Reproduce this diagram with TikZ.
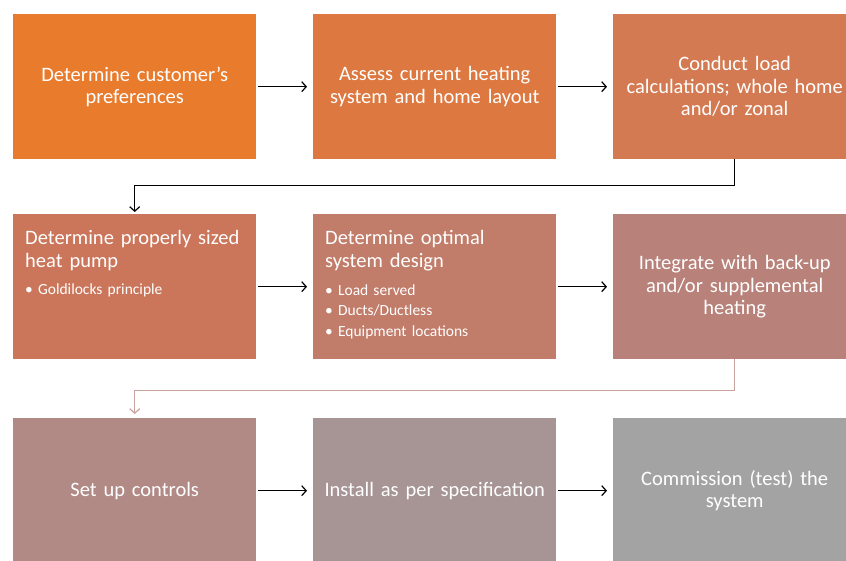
\documentclass[tikz,border=0pt]{standalone}
\usepackage{fontspec}
\setmainfont{Carlito}
\usetikzlibrary{positioning, arrows.meta}
\definecolor{stepA}{HTML}{E97B2D}
\definecolor{stepB}{HTML}{DD7940}
\definecolor{stepC}{HTML}{D47A52}
\definecolor{stepD}{HTML}{CB755A}
\definecolor{stepE}{HTML}{C17C6A}
\definecolor{stepF}{HTML}{B8827A}
\definecolor{stepG}{HTML}{B18A86}
\definecolor{stepH}{HTML}{A79494}
\definecolor{stepI}{HTML}{A3A3A3}
\definecolor{linkpink}{HTML}{C9A19D}
\tikzset{
	stepbox/.style={fill=#1, minimum width=243, minimum height=145, inner sep=0pt,
			anchor=north west, text width=232, align=center,
			font=\fontsize{20.5}{22.5}\selectfont, text=white}
}
\tikzset{
	steptitle/.style={inner sep=0pt, anchor=north west, text width=232, align=left,
			font=\fontsize{20.5}{23}\selectfont, text=white}
}
\tikzset{
	steplist/.style={inner sep=0pt, text width=225, align=left,
			font=\fontsize{15.5}{20.5}\selectfont, text=white}
}
\tikzset{
	flow/.style={line width=1.2pt, -{Straight Barb[length=4.5pt, width=10pt]},
			shorten <=2pt, shorten >=6pt}
}

\begin{document}
\begin{tikzpicture}[x=1pt, y=1pt]
	\useasboundingbox (0,0) rectangle (846,560);

	\begin{scope}
		\coordinate (cA) at (13,546);
		\coordinate (cB) at (313,546);
		\coordinate (cC) at (613,546);
		\coordinate (cD) at (13,346);
		\coordinate (cE) at (313,346);
		\coordinate (cF) at (613,346);
		\coordinate (cG) at (13,142);
		\coordinate (cH) at (313,142);
		\coordinate (cI) at (613,142);

		\node[stepbox=stepA] (sA) at (cA) {Determine customer’s\\preferences};
		\node[stepbox=stepB] (sB) at (cB) {Assess current heating\\system and home layout};
		\node[stepbox=stepC] (sC) at (cC) {Conduct load\\calculations; whole home\\and/or zonal};
		\node[stepbox=stepD] (sD) at (cD) {};
		\node[stepbox=stepE] (sE) at (cE) {};
		\node[stepbox=stepF] (sF) at (cF) {Integrate with back-up\\and/or supplemental\\heating};
		\node[stepbox=stepG] (sG) at (cG) {Set up controls};
		\node[stepbox=stepH] (sH) at (cH) {Install as per specification};
		\node[stepbox=stepI] (sI) at (cI) {Commission (test) the\\system};
	\end{scope}

	\begin{scope}
		\node[steptitle] (tD) at ([shift={(12,-16)}]sD.north west) {Determine properly sized\\heat pump};
		\node[steplist, below=13pt of tD.south west, anchor=north west] (lD) {\textbullet\ Goldilocks principle};

		\node[steptitle] (tE) at ([shift={(12,-16)}]sE.north west) {Determine optimal\\system design};
		\node[steplist, below=13pt of tE.south west, anchor=north west] (lE)
		{\textbullet\ Load served\\\textbullet\ Ducts/Ductless\\\textbullet\ Equipment locations};
	\end{scope}

	\begin{scope}
		\draw[flow] (sA) -- (sB);
		\draw[flow] (sB) -- (sC);
		\draw[flow] (sD) -- (sE);
		\draw[flow] (sE) -- (sF);
		\draw[flow] (sG) -- (sH);
		\draw[flow] (sH) -- (sI);

		\draw[flow, shorten <=0pt, shorten >=2pt] (sC.south) -- ++(0,-26) -| (sD.north);
		\draw[flow, linkpink, shorten <=0pt, shorten >=4pt] (sF.south) -- ++(0,-31) -| (sG.north);
	\end{scope}

\end{tikzpicture}
\end{document}
